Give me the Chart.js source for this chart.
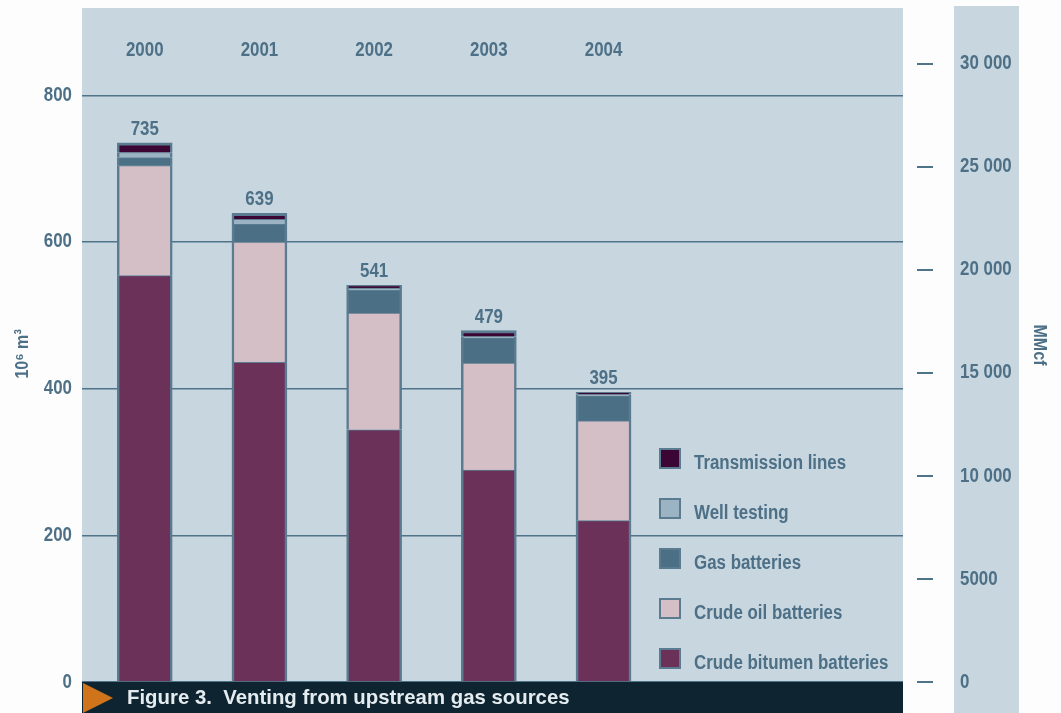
<!DOCTYPE html>
<html><head><meta charset="utf-8">
<script src="https://cdn.jsdelivr.net/npm/chart.js@4.4.1/dist/chart.umd.min.js"></script>
<style>html,body{margin:0;padding:0;background:#fdfdfd}#wrap{width:1061px;height:713px;position:relative}</style>
</head><body><div id="wrap"><canvas id="c" width="1061" height="713"></canvas></div>
<script>
// ---- data ----
const years = ['2000','2001','2002','2003','2004'];
const crudeBitumen = [554, 436, 344, 289, 220];
const crudeOil     = [150, 164, 159, 146, 136];
const gasBatteries = [11, 24, 31, 34, 34];
const wellTesting  = [7, 7, 3, 2, 2];
const transmission = [13, 8, 4, 8, 3];
const totals       = [735, 639, 541, 479, 395];
const leftTicks  = [0, 200, 400, 600, 800];
const rightTicks = [0, 5000, 10000, 15000, 20000, 25000, 30000];
const seriesNames = ['Crude bitumen batteries','Crude oil batteries','Gas batteries','Well testing','Transmission lines'];
const titleText = 'Figure 3.  Venting from upstream gas sources';

// ---- style ----
const Y_MAX = 919, CONV = 35.6;
const TEXT = '#4d7087', GRID = '#4f7389', PLOT_BG = '#c8d6df', BAR_BORDER = '#5a7b90';
const COLORS = ['#6b3159','#d4bfc7','#4b6f84','#9bb3c2','#3c0634'];

// condensed look: Liberation Sans squeezed horizontally (like Arial Narrow)
const FAM = 'NarrowX, "Liberation Sans", Arial, sans-serif';
const TFAM = 'TitleX, "Liberation Sans", Arial, sans-serif';
const F = (s) => ({family: FAM, size: s, weight: 'bold'});
const fstr = (s) => 'bold ' + s + 'px ' + FAM;

const canvas = document.getElementById('c');
const ctx0 = canvas.getContext('2d');
const origFill = ctx0.fillText;
ctx0.fillText = function (t, x, y, mw) {
  const f = this.font;
  const k = f.indexOf('NarrowX') >= 0 ? 0.845 : (f.indexOf('TitleX') >= 0 ? 0.97 : 1);
  if (k !== 1) {
    this.save(); this.translate(x, y); this.scale(k, 1);
    origFill.call(this, t, 0, 0);
    this.restore();
  } else if (mw === undefined) origFill.call(this, t, x, y);
  else origFill.call(this, t, x, y, mw);
};

const fmt = v => v >= 10000 ? String(v).replace(/(\d)(?=(\d{3})+$)/g, '$1 ') : String(v);

const seriesData = [crudeBitumen, crudeOil, gasBatteries, wellTesting, transmission];
const datasets = seriesData.map((arr, i) => ({
  label: seriesNames[i],
  data: arr,
  backgroundColor: COLORS[i],
  borderColor: BAR_BORDER,
  borderWidth: {left: 2.5, right: 2.5, top: i === 4 ? 3 : 1, bottom: 0},
  borderSkipped: 'start',
  barThickness: 55,
  yAxisID: 'y'
}));

const bgPlugin = {
  id: 'bg',
  beforeDraw(chart) {
    const {ctx, chartArea: a, width, height} = chart;
    const y2 = chart.scales.y2;
    ctx.save();
    ctx.fillStyle = '#fdfdfd'; ctx.fillRect(0, 0, width, height);
    ctx.fillStyle = PLOT_BG;
    ctx.fillRect(a.left, a.top, a.right - a.left, a.bottom - a.top);
    ctx.fillRect(y2.left + 51, a.top - 2, 65, height - a.top + 2);
    ctx.restore();
  }
};

const labelPlugin = {
  id: 'labels',
  afterDatasetsDraw(chart) {
    const {ctx, chartArea: a} = chart;
    const xs = chart.scales.x, ys = chart.scales.y;
    ctx.save();
    ctx.fillStyle = TEXT; ctx.textAlign = 'center';
    ctx.font = fstr(20);
    years.forEach((yr, i) => {
      const x = xs.getPixelForValue(+yr);
      ctx.textBaseline = 'middle';
      ctx.fillText(yr, x, a.top + 42);
      ctx.textBaseline = 'alphabetic';
      ctx.fillText(String(totals[i]), x, ys.getPixelForValue(totals[i]) - 8);
    });
    // legend
    const ds = chart.data.datasets;
    const x0 = a.left + 577;
    ctx.textAlign = 'left'; ctx.textBaseline = 'alphabetic';
    ds.forEach((d, i) => {
      const bottom = a.bottom - 13 - i * 50;
      ctx.fillStyle = d.backgroundColor;
      ctx.fillRect(x0, bottom - 21, 22, 21);
      ctx.strokeStyle = BAR_BORDER; ctx.lineWidth = 2;
      ctx.strokeRect(x0 + 1, bottom - 20, 20, 19);
      ctx.fillStyle = TEXT;
      ctx.fillText(d.label, x0 + 35, bottom);
    });
    ctx.restore();
  },
  afterDraw(chart) {
    const {ctx, chartArea: a, height} = chart;
    ctx.save();
    ctx.fillStyle = '#0e2531';
    ctx.fillRect(a.left, a.bottom, a.right - a.left, height - a.bottom);
    ctx.fillStyle = '#d0741c';
    ctx.beginPath();
    ctx.moveTo(a.left + 1, a.bottom + 1);
    ctx.lineTo(a.left + 31, (a.bottom + 1 + height) / 2);
    ctx.lineTo(a.left + 1, height);
    ctx.closePath(); ctx.fill();
    ctx.fillStyle = '#e4ecf0';
    ctx.font = 'bold 21px ' + TFAM;
    ctx.textAlign = 'left'; ctx.textBaseline = 'alphabetic';
    ctx.fillText(titleText, a.left + 45, a.bottom + 22);
    ctx.restore();
  }
};

const fixPad = s => { s.paddingTop = 0; s.paddingBottom = 0; };

new Chart(canvas, {
  type: 'bar',
  data: {labels: years, datasets},
  options: {
    responsive: false,
    animation: false,
    layout: {padding: {top: 8, bottom: 31, left: 0, right: 0}},
    plugins: {legend: {display: false}, tooltip: {enabled: false}},
    scales: {
      x: {type: 'linear', min: 1999.453, max: 2006.611, stacked: true, display: false, offset: false},
      y: {
        stacked: true, min: 0, max: Y_MAX,
        afterBuildTicks: s => { s.ticks = leftTicks.map(v => ({value: v})); },
        afterFit: s => { s.width = 82; fixPad(s); },
        grid: {color: GRID, lineWidth: 1.5, drawTicks: false},
        border: {display: false},
        ticks: {color: TEXT, padding: 10, font: F(20)},
        title: {display: true, text: '10⁶ m³    ', color: TEXT, font: F(19), padding: {top: 11}}
      },
      y2: {
        position: 'right', min: 0, max: Y_MAX * CONV,
        afterBuildTicks: s => { s.ticks = rightTicks.map(v => ({value: v})); },
        afterFit: s => { s.width = 158; fixPad(s); },
        grid: {drawOnChartArea: false, color: GRID, lineWidth: 2, tickLength: 30, tickBorderDash: [0, 14, 16, 40]},
        border: {display: false},
        ticks: {color: TEXT, padding: 27, font: F(20), callback: v => fmt(v)},
        title: {display: true, text: 'MMcf', color: TEXT, font: F(19), padding: {top: 10}}
      }
    }
  },
  plugins: [bgPlugin, labelPlugin]
});
</script></body></html>
